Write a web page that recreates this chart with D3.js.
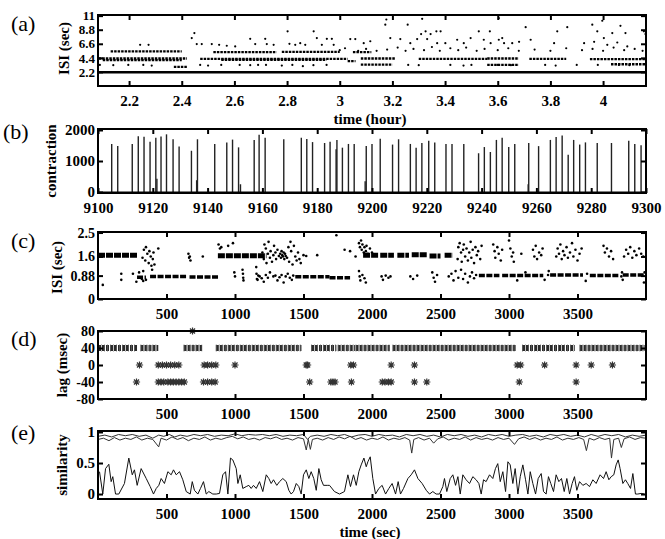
<!DOCTYPE html>
<html>
<head>
<meta charset="utf-8">
<script src="https://cdn.jsdelivr.net/npm/d3@7/dist/d3.min.js"></script>
<style>
  body { margin: 0; background: #fff; }
  svg { display: block; }
</style>
</head>
<body>
<script>
// ---- panel (a): ISI vs time (hour) ----
var aXTicks = [2.2, 2.4, 2.6, 2.8, 3, 3.2, 3.4, 3.6, 3.8, 4];
var aYTicks = [2.2, 4.4, 6.6, 8.8, 11];
// dense bands [from, to, isi]
var aSolidRuns = [[2.082, 4.163, 2.15]];
var aDotRuns = [
  [2.085, 2.42, 4.3], [2.47, 3.03, 4.25], [3.03, 3.06, 3.9], [3.08, 3.21, 4.3],
  [3.30, 3.56, 4.25], [3.56, 3.68, 4.3], [3.72, 3.86, 4.25], [3.95, 4.163, 4.2],
  [2.10, 2.40, 4.05], [2.55, 2.95, 4.1],
  [2.13, 2.40, 5.4], [2.52, 2.76, 5.3], [2.78, 3.0, 5.35], [3.05, 3.12, 5.3],
  [2.37, 2.42, 3.0], [3.08, 3.20, 3.35], [3.56, 3.68, 3.3], [4.03, 4.163, 3.4]
];
var aPoints = [
  [2.242, 6.44], [2.274, 6.44], [2.438, 7.49], [2.448, 8.28], [2.457, 6.55], [2.476, 6.55],
  [2.514, 6.55], [2.542, 6.44], [2.571, 6.29], [2.603, 6.18], [2.660, 7.38], [2.679, 6.55],
  [2.717, 7.38], [2.723, 6.55], [2.749, 6.44], [2.802, 8.54], [2.809, 6.6], [2.831, 6.44],
  [2.850, 6.7], [2.869, 6.44], [2.901, 8.54], [2.913, 7.49], [2.932, 6.44], [2.951, 7.38],
  [2.970, 7.38], [2.977, 6.44],
  [3.173, 9.58], [3.177, 10.4], [3.258, 9.58], [3.313, 10.5], [3.309, 8.12], [3.326, 8.54],
  [3.345, 8.12], [3.367, 8.54], [3.383, 8.54], [3.528, 8.54], [3.570, 8.54], [3.604, 10.6],
  [3.604, 7.23], [3.617, 7.49], [3.706, 9.2], [3.725, 7.23], [3.826, 8.54], [3.864, 9.2],
  [3.959, 9.58], [3.978, 8.54], [3.997, 10.2], [4.003, 7.49], [4.035, 8.28], [4.066, 9.4],
  [4.085, 8.28], [4.155, 8.54], [4.161, 8.12],
  [3.040, 7.33], [3.059, 7.33], [3.091, 6.7], [3.116, 7.0], [3.192, 7.49], [3.230, 7.33],
  [3.268, 6.7], [3.294, 7.33], [3.332, 7.33], [3.370, 6.7], [3.401, 6.7], [3.446, 7.23],
  [3.471, 6.7], [3.497, 7.49], [3.547, 7.23], [3.573, 6.7], [3.624, 6.7], [3.655, 6.7],
  [3.681, 6.9], [3.814, 6.7], [3.928, 6.7], [3.966, 6.9], [4.016, 6.44], [4.054, 6.8],
  [4.092, 6.18],
  [3.0, 5.6], [3.02, 5.9], [3.07, 5.5], [3.1, 5.8], [3.14, 5.5], [3.18, 5.7], [3.22, 6.0],
  [3.25, 5.5], [3.28, 5.8], [3.32, 5.6], [3.35, 6.1], [3.38, 5.5], [3.42, 5.9], [3.45, 5.6],
  [3.48, 6.0], [3.52, 5.5], [3.55, 5.8], [3.6, 5.6], [3.64, 5.9], [3.68, 5.5], [3.74, 5.7],
  [3.8, 5.5], [3.86, 5.9], [3.92, 5.6], [3.96, 5.8], [4.0, 5.5], [4.04, 6.0], [4.08, 5.6],
  [4.12, 5.8], [4.15, 5.5],
  [2.089, 3.3], [2.14, 3.25], [2.197, 3.3], [2.254, 3.3], [2.286, 3.2], [2.47, 3.3], [2.5, 3.2],
  [2.55, 3.3], [2.62, 3.3], [2.66, 3.25], [2.69, 3.3], [2.72, 3.3], [2.78, 3.2], [2.82, 3.3],
  [2.86, 3.1], [2.9, 3.25], [2.95, 3.3], [3.26, 3.3], [3.3, 3.25], [3.42, 3.3], [3.47, 3.2],
  [3.5, 3.3], [3.6, 3.3], [3.65, 3.25], [3.78, 3.3], [3.82, 3.2], [3.9, 3.3], [3.98, 3.3],
  [4.06, 3.3], [4.1, 3.25]
];

// ---- panel (b): contraction spikes ----
var bXTicks = [9100, 9120, 9140, 9160, 9180, 9200, 9220, 9240, 9260, 9280, 9300];
var bYTicks = [0, 1000, 2000];
var bSpikes = [
  [9105.0, 1550], [9107.2, 1480], [9112.5, 1550], [9114.7, 1800], [9116.8, 1780], [9119.0, 1620],
  [9121.1, 1750], [9123.0, 1790], [9125.0, 1860], [9127.4, 1700], [9129.6, 1470], [9134.1, 1330],
  [9136.3, 1700], [9142.6, 1550], [9147.0, 1600], [9149.1, 1690], [9151.3, 1440], [9157.0, 1680],
  [9158.8, 1850], [9161.0, 1750], [9167.8, 1700], [9174.2, 1750], [9176.2, 1710], [9178.3, 1610],
  [9182.7, 1580], [9184.7, 1620], [9186.9, 1380], [9187.2, 1680], [9189.2, 1430], [9191.4, 1550],
  [9193.5, 1550], [9197.9, 1480], [9200.0, 1550], [9203.0, 1720], [9207.5, 1530], [9209.7, 1700],
  [9214.0, 1550], [9216.1, 1430], [9218.2, 1580], [9220.7, 1650], [9222.9, 1600], [9227.0, 1550],
  [9229.2, 1550], [9233.5, 1550], [9238.9, 1250], [9241.0, 1450], [9243.2, 1290], [9245.4, 1680],
  [9247.5, 1750], [9249.9, 1450], [9252.1, 1550], [9257.2, 1580], [9260.8, 1480], [9265.1, 1680],
  [9267.2, 1770], [9269.4, 1820], [9271.6, 1200], [9273.6, 1680], [9275.8, 1530], [9277.9, 1600],
  [9282.2, 1580], [9287.4, 1580], [9293.7, 1650], [9295.9, 1550], [9298.2, 1510],
  [9121.5, 430], [9136.0, 380], [9197.5, 350], [9257.0, 250], [9152.0, 250]
];

// ---- panel (c): ISI (sec) vs time (sec) ----
var tXTicks = [500, 1000, 1500, 2000, 2500, 3000, 3500];
var cYTicks = [0, 0.88, 1.6, 2.5];
var cUpperRuns = [
  [0, 285, 1.65], [875, 1230, 1.63], [1935, 2050, 1.65], [2060, 2160, 1.65], [2185, 2270, 1.65],
  [2290, 2400, 1.66], [2420, 2500, 1.62], [2530, 2590, 1.65]
];
var cLowerRuns = [
  [285, 350, 0.82], [380, 645, 0.85], [668, 885, 0.83], [1440, 1690, 0.84], [1690, 1840, 0.8],
  [2780, 2930, 0.88], [2950, 3250, 0.88], [3300, 3540, 0.9], [3590, 3800, 0.88], [3830, 3990, 0.9]
];
var cPoints = [
  [35, 0.53], [170, 0.72], [170, 0.95], [255, 0.95], [280, 0.65], [300, 1.0], [320, 0.75], [330, 1.05],
  [325, 1.55], [335, 1.85], [345, 1.45], [350, 1.95], [360, 1.7], [370, 1.35], [375, 1.8], [385, 1.6],
  [390, 1.25], [400, 1.5], [405, 1.75], [412, 1.3], [440, 1.9], [395, 1.1], [330, 0.68], [350, 0.72],
  [660, 1.7], [665, 1.55], [670, 1.6], [675, 1.45], [765, 1.6],
  [880, 2.05], [890, 1.9], [900, 1.95], [950, 2.0], [985, 2.1],
  [995, 1.0], [1000, 0.85], [1055, 1.1], [1058, 0.95], [1060, 0.8], [1062, 0.7],
  [1155, 1.2], [1157, 0.95], [1160, 0.75], [1165, 0.72], [1170, 0.88],
  [1200, 1.75], [1210, 1.5], [1215, 2.05], [1225, 1.9], [1230, 1.35], [1240, 1.7], [1245, 2.15],
  [1255, 1.55], [1260, 1.8], [1270, 1.4], [1280, 1.65], [1285, 2.0], [1295, 1.75], [1300, 1.5],
  [1310, 1.85], [1320, 1.62], [1330, 1.7], [1335, 1.55], [1340, 1.8], [1345, 1.65], [1350, 1.6],
  [1355, 1.75], [1360, 1.5], [1365, 1.7], [1370, 1.62], [1380, 1.55], [1390, 1.95], [1395, 1.4],
  [1405, 2.15], [1410, 1.8], [1420, 1.3], [1430, 2.0], [1440, 1.6], [1450, 1.45], [1460, 1.75],
  [1470, 1.5], [1480, 1.35], [1500, 1.65], [1520, 1.62], [1600, 1.65],
  [1180, 0.85], [1195, 0.78], [1210, 0.65], [1225, 0.9], [1240, 0.8], [1255, 1.0], [1280, 0.85],
  [1295, 0.88], [1310, 0.7], [1325, 0.82], [1340, 0.9], [1355, 0.62], [1370, 0.85], [1385, 0.95],
  [1400, 0.8], [1415, 0.72], [1425, 0.88],
  [1740, 2.4], [1800, 1.85], [1840, 1.8], [1880, 1.6],
  [1905, 2.1], [1912, 1.95], [1920, 2.2], [1925, 1.85], [1930, 2.05], [1940, 1.75], [1945, 1.95],
  [1955, 1.8], [1960, 2.0], [1970, 1.7], [1985, 1.9], [2000, 1.75],
  [1905, 1.05], [1910, 0.85], [1915, 0.7], [1930, 0.9], [1945, 0.78], [1955, 0.62],
  [2070, 0.85], [2080, 0.72], [2100, 0.88], [2120, 0.8], [2135, 0.85], [2280, 0.85], [2300, 0.75],
  [2330, 0.88], [2440, 1.0], [2450, 0.8], [2460, 0.65], [2475, 0.9],
  [2625, 1.5], [2630, 1.95], [2640, 2.1], [2650, 1.75], [2655, 1.4], [2665, 1.85], [2670, 2.05],
  [2680, 1.6], [2690, 1.9], [2700, 1.45], [2710, 1.75], [2720, 2.15], [2725, 1.55], [2735, 1.85],
  [2745, 1.35], [2755, 1.95], [2765, 1.65], [2775, 1.8], [2790, 1.5], [2800, 2.0],
  [2560, 0.85], [2580, 0.95], [2595, 0.7], [2610, 1.05], [2630, 0.8], [2650, 1.1], [2665, 0.75],
  [2680, 0.95], [2700, 0.62], [2715, 0.85], [2730, 1.0], [2745, 0.78], [2760, 0.9],
  [2885, 2.05], [2895, 1.8], [2900, 1.55], [2915, 1.95], [2925, 1.7], [2940, 1.45], [2950, 1.85],
  [3000, 2.2], [3010, 1.9], [3020, 1.6], [3030, 1.75], [3035, 1.4], [3090, 1.7],
  [3175, 1.85], [3185, 1.6], [3195, 2.0], [3205, 1.5], [3220, 1.75], [3235, 1.65], [3245, 1.9],
  [3345, 1.6], [3355, 1.9], [3365, 1.7], [3375, 2.05], [3385, 1.5], [3395, 1.8], [3405, 1.65],
  [3420, 1.95], [3430, 1.55], [3445, 1.75], [3460, 2.1], [3470, 1.6], [3485, 1.85], [3500, 1.45],
  [3515, 1.7], [3530, 1.9],
  [3690, 2.0], [3700, 1.75], [3715, 1.9], [3730, 1.6], [3745, 1.8], [3760, 1.5],
  [3840, 1.6], [3855, 1.85], [3870, 1.7], [3885, 1.95], [3900, 1.55], [3915, 1.8], [3930, 1.65],
  [3950, 1.9], [3965, 1.7], [3980, 1.6],
  [3060, 0.7], [3120, 1.0], [3260, 0.72], [3285, 0.9], [3290, 1.05], [3560, 0.68], [3570, 0.95],
  [3820, 0.85], [3825, 1.0], [3830, 0.72], [3985, 0.62], [3990, 1.0]
];

// ---- panel (d): lag (msec) ----
var dYTicks = [-80, -40, 0, 40, 80];
var dRuns40 = [
  [0, 285], [310, 440], [625, 760], [860, 1485], [1555, 1740], [1750, 1875], [1880, 2130],
  [2150, 2350], [2355, 3055], [3095, 3480], [3515, 3990]
];
var dLag80 = [690];
var dLag0 = [303, 440, 470, 500, 530, 560, 590, 775, 800, 830, 860, 1000, 1520, 1530, 1845, 1865,
  2140, 2310, 3060, 3085, 3260, 3490, 3600, 3755];
var dLagM40 = [281, 440, 460, 480, 510, 530, 550, 570, 590, 610, 630, 770, 800, 830, 855, 1545,
  1700, 1715, 1730, 1850, 2075, 2095, 2120, 2140, 2310, 2400, 3075, 3490];

// ---- panel (e): similarity ----
var eYTicks = [0, 0.5, 1];
var eUpperA = [
  [0, 0.93], [50, 0.95], [100, 0.92], [150, 0.96], [200, 0.94], [250, 0.96], [300, 0.93], [350, 0.95],
  [400, 0.9], [443, 0.95], [480, 0.93], [520, 0.96], [560, 0.92], [600, 0.95], [650, 0.93], [700, 0.96],
  [750, 0.94], [800, 0.96], [850, 0.93], [900, 0.95], [950, 0.94], [1000, 0.97], [1050, 0.94],
  [1100, 0.96], [1150, 0.95], [1200, 0.96], [1250, 0.94], [1300, 0.96], [1350, 0.93], [1400, 0.95],
  [1450, 0.94], [1500, 0.96], [1530, 0.88], [1550, 0.93], [1600, 0.95], [1650, 0.93], [1700, 0.96],
  [1750, 0.94], [1800, 0.96], [1850, 0.92], [1900, 0.95], [1950, 0.96], [2000, 0.93], [2050, 0.96],
  [2100, 0.94], [2150, 0.95], [2200, 0.92], [2250, 0.96], [2300, 0.94], [2350, 0.96], [2400, 0.93],
  [2450, 0.95], [2500, 0.92], [2550, 0.96], [2600, 0.94], [2650, 0.96], [2700, 0.93], [2750, 0.95],
  [2800, 0.92], [2850, 0.96], [2900, 0.94], [2950, 0.96], [3000, 0.93], [3050, 0.95], [3100, 0.96],
  [3150, 0.93], [3200, 0.95], [3250, 0.92], [3300, 0.96], [3350, 0.94], [3400, 0.96], [3450, 0.93],
  [3500, 0.95], [3550, 0.92], [3600, 0.96], [3650, 0.93], [3700, 0.96], [3750, 0.94], [3800, 0.96],
  [3850, 0.92], [3900, 0.95], [3950, 0.93], [4000, 0.95]
];
var eUpperB = [
  [0, 0.88], [40, 0.9], [80, 0.86], [120, 0.91], [160, 0.87], [200, 0.9], [240, 0.88], [280, 0.92],
  [320, 0.87], [360, 0.9], [400, 0.88], [443, 0.76], [460, 0.9], [500, 0.87], [540, 0.92], [580, 0.88],
  [620, 0.91], [660, 0.86], [700, 0.9], [740, 0.88], [780, 0.92], [820, 0.87], [860, 0.9], [900, 0.88],
  [940, 0.91], [980, 0.93], [1020, 0.89], [1060, 0.92], [1100, 0.88], [1140, 0.9], [1180, 0.87],
  [1220, 0.91], [1260, 0.89], [1300, 0.92], [1340, 0.88], [1380, 0.9], [1420, 0.87], [1460, 0.91],
  [1500, 0.89], [1520, 0.71], [1535, 0.88], [1550, 0.72], [1565, 0.88], [1600, 0.9], [1640, 0.87],
  [1680, 0.91], [1720, 0.88], [1760, 0.92], [1800, 0.89], [1840, 0.93], [1880, 0.88], [1920, 0.91],
  [1960, 0.87], [2000, 0.9], [2040, 0.88], [2080, 0.92], [2120, 0.87], [2160, 0.9], [2200, 0.88],
  [2240, 0.91], [2275, 0.87], [2290, 0.66], [2305, 0.88], [2340, 0.91], [2380, 0.87], [2420, 0.9],
  [2450, 0.82], [2480, 0.89], [2520, 0.92], [2560, 0.87], [2600, 0.9], [2640, 0.88], [2680, 0.92],
  [2720, 0.87], [2760, 0.91], [2800, 0.88], [2840, 0.9], [2880, 0.87], [2920, 0.91], [2960, 0.88],
  [3000, 0.9], [3040, 0.8], [3070, 0.89], [3110, 0.92], [3150, 0.88], [3190, 0.91], [3230, 0.87],
  [3270, 0.9], [3310, 0.88], [3350, 0.92], [3390, 0.87], [3430, 0.9], [3470, 0.88], [3510, 0.91],
  [3545, 0.88], [3565, 0.7], [3585, 0.9], [3620, 0.87], [3660, 0.91], [3700, 0.88], [3735, 0.9],
  [3748, 0.58], [3765, 0.88], [3800, 0.9], [3820, 0.75], [3840, 0.89], [3880, 0.92], [3920, 0.88],
  [3960, 0.91], [4000, 0.9]
];
var eLower = [
  [11, 0.36], [35, 0], [55, 0.41], [79, 0.48], [96, 0.2], [108, 0.28], [128, 0], [152, 0], [193, 0.17],
  [225, 0.58], [250, 0.31], [266, 0.39], [286, 0.14], [315, 0.41], [352, 0.25], [381, 0.12], [405, 0],
  [425, 0.09], [444, 0.14], [461, 0.25], [485, 0.17], [510, 0.36], [534, 0.31], [551, 0.39], [571, 0.31],
  [595, 0.36], [619, 0.23], [644, 0.04], [673, 0], [688, 0.2], [704, 0.06], [729, 0], [748, 0.09],
  [770, 0.2], [790, 0], [809, 0.04], [838, 0], [863, 0], [887, 0.01], [911, 0.31], [931, 0.36], [948, 0],
  [967, 0.58], [984, 0.55], [1009, 0.41], [1021, 0.17], [1038, 0.31], [1057, 0.09], [1082, 0.12],
  [1101, 0.14], [1118, 0.09], [1135, 0.14], [1155, 0.09], [1179, 0.2], [1203, 0.04], [1228, 0.31],
  [1247, 0.25], [1264, 0.17], [1281, 0.23], [1305, 0.14], [1325, 0.2], [1349, 0.25], [1374, 0.2],
  [1393, 0.06], [1410, 0], [1427, 0.04], [1447, 0.17], [1466, 0.12], [1483, 0], [1500, 0.31],
  [1520, 0.39], [1539, 0.25], [1556, 0.36], [1575, 0.25], [1593, 0.06], [1612, 0.41], [1629, 0.23],
  [1646, 0.14], [1677, 0.14], [1690, 0.14], [1726, 0.04], [1763, 0], [1799, 0.04], [1824, 0.31],
  [1843, 0.12], [1865, 0.31], [1885, 0.14], [1904, 0.36], [1921, 0.47], [1941, 0.58], [1958, 0.44],
  [1970, 0.52], [1987, 0.6], [2006, 0.25], [2026, 0], [2050, 0.09], [2074, 0.14], [2099, 0],
  [2123, 0.09], [2147, 0.17], [2172, 0], [2191, 0.2], [2208, 0], [2230, 0.09], [2262, 0.25],
  [2286, 0.31], [2310, 0.39], [2335, 0.25], [2366, 0.17], [2396, 0.06], [2420, 0], [2444, 0.04],
  [2468, 0], [2493, 0], [2517, 0.12], [2529, 0.25], [2546, 0.04], [2571, 0.25], [2590, 0.31],
  [2610, 0.14], [2627, 0.28], [2644, 0], [2663, 0.31], [2687, 0.23], [2712, 0.17], [2736, 0.28],
  [2760, 0.23], [2780, 0.17], [2797, 0], [2814, 0.23], [2833, 0.2], [2858, 0.31], [2882, 0.25],
  [2901, 0.41], [2918, 0.49], [2936, 0.2], [2955, 0.36], [2975, 0.04], [2992, 0.52], [3009, 0.47],
  [3028, 0.17], [3045, 0.41], [3065, 0], [3082, 0.28], [3101, 0.47], [3121, 0.23], [3138, 0],
  [3155, 0.36], [3174, 0.17], [3194, 0], [3213, 0.25], [3235, 0.33], [3252, 0.04], [3271, 0],
  [3288, 0.28], [3305, 0.17], [3325, 0.04], [3344, 0.31], [3364, 0.2], [3383, 0.25], [3403, 0.04],
  [3422, 0.25], [3442, 0], [3461, 0.17], [3478, 0.28], [3495, 0.06], [3515, 0.2], [3539, 0.14],
  [3563, 0.17], [3588, 0.12], [3612, 0.23], [3636, 0.17], [3665, 0.31], [3690, 0.25], [3709, 0.36],
  [3729, 0.23], [3746, 0.28], [3765, 0.31], [3782, 0.47], [3797, 0.55], [3811, 0.41], [3831, 0.17],
  [3850, 0.23], [3867, 0.17], [3887, 0.09], [3904, 0.33], [3923, 0], [3940, 0], [3965, 0.01], [3989, 0]
];

var W = 665, H = 539;
var L = 98, R = 646;
var FONT = "Liberation Serif, Times New Roman, serif";

var svg = d3.select("body").append("svg").attr("width", W).attr("height", H)
  .attr("font-family", FONT);
svg.append("rect").attr("width", W).attr("height", H).attr("fill", "#fff");

function makePanel(cfg) {
  var g = svg.append("g");
  var x = d3.scaleLinear().domain(cfg.xDomain).range([L, R]);
  var y = d3.scaleLinear().domain(cfg.yDomain).range([cfg.bottom, cfg.top]);
  var marks = g.append("g");
  return { g: g, x: x, y: y, marks: marks, cfg: cfg };
}

function styleAxis(sel, size) {
  sel.select(".domain").remove();
  sel.attr("font-family", FONT).attr("font-size", size || 15).attr("font-weight", "bold");
  sel.selectAll(".tick line").attr("stroke", "#000").attr("stroke-width", 2);
  sel.selectAll(".tick text").attr("fill", "#000");
}

function finishPanel(p) {
  var c = p.cfg, g = p.g;
  var fmt = function (d) { return String(d); };
  g.append("g").attr("transform", "translate(0," + c.bottom + ")")
    .call(d3.axisBottom(p.x).tickValues(c.xTicks).tickFormat(fmt).tickSizeInner(-5).tickSizeOuter(0).tickPadding(9))
    .call(styleAxis);
  g.append("g").attr("transform", "translate(0," + c.top + ")")
    .call(d3.axisTop(p.x).tickValues(c.xTicks).tickFormat("").tickSizeInner(-5).tickSizeOuter(0))
    .call(styleAxis);
  g.append("g").attr("transform", "translate(" + L + ",0)")
    .call(d3.axisLeft(p.y).tickValues(c.yTicks).tickFormat(fmt).tickSizeInner(-5).tickSizeOuter(0).tickPadding(3))
    .call(styleAxis, c.yTickSize);
  g.append("g").attr("transform", "translate(" + R + ",0)")
    .call(d3.axisRight(p.y).tickValues(c.yTicks).tickFormat("").tickSizeInner(-5).tickSizeOuter(0))
    .call(styleAxis);
  g.append("rect").attr("x", L).attr("y", c.top).attr("width", R - L).attr("height", c.bottom - c.top)
    .attr("fill", "none").attr("stroke", "#000").attr("stroke-width", 2);

  // y label
  g.append("text")
    .attr("transform", "translate(" + c.yLabelX + "," + ((c.top + c.bottom) / 2 + (c.yLabelShift || 0)) + ") rotate(-90)")
    .attr("text-anchor", "middle").attr("dy", "0.35em")
    .attr("font-size", 15).attr("font-weight", "bold").text(c.yLabel);
  // panel letter
  g.append("text").attr("x", c.letterX).attr("y", c.letterY)
    .attr("font-size", 22).text(c.letter);
  if (c.xLabel) {
    g.append("text").attr("x", 370).attr("y", c.xLabelY).attr("text-anchor", "middle")
      .attr("dy", "0.35em").attr("font-size", 15).attr("font-weight", "bold").text(c.xLabel);
  }
}

function drawRuns(p, runs, width, dash, color) {
  p.marks.selectAll(null).data(runs).enter().append("line")
    .attr("x1", function (d) { return p.x(d[0]); })
    .attr("x2", function (d) { return p.x(d[1]); })
    .attr("y1", function (d) { return p.y(d[2]); })
    .attr("y2", function (d) { return p.y(d[2]); })
    .attr("stroke", color || "#000").attr("stroke-width", width)
    .attr("stroke-dasharray", dash);
}

function drawDots(p, pts, r) {
  p.marks.selectAll(null).data(pts).enter().append("circle")
    .attr("cx", function (d) { return p.x(d[0]); })
    .attr("cy", function (d) { return p.y(d[1]); })
    .attr("r", r).attr("fill", "#000");
}

// (a)
var pa = makePanel({ xDomain: [2.082, 4.163], yDomain: [0, 11.1], top: 15, bottom: 86,
  xTicks: aXTicks, yTicks: aYTicks, yTickSize: 13, yLabel: "ISI (sec)", yLabelX: 64, yLabelShift: -2,
  letter: "(a)", letterX: 11, letterY: 31, xLabel: "time (hour)", xLabelY: 119 });
drawRuns(pa, aSolidRuns, 2.5, null);
drawRuns(pa, aDotRuns, 2.3, "2.5,1", "#000");
drawDots(pa, aPoints, 1.1);
finishPanel(pa);

// (b)
var pb = makePanel({ xDomain: [9100, 9300], yDomain: [-32, 2032], top: 129, bottom: 193,
  xTicks: bXTicks, yTicks: bYTicks, yLabel: "contraction", yLabelX: 51, yLabelShift: 0,
  letter: "(b)", letterX: 3, letterY: 139 });
pb.marks.selectAll(null).data(bSpikes).enter().append("line")
  .attr("x1", function (d) { return pb.x(d[0]); })
  .attr("x2", function (d) { return pb.x(d[0]); })
  .attr("y1", pb.y(0))
  .attr("y2", function (d) { return pb.y(d[1]); })
  .attr("stroke", "#222").attr("stroke-width", 1.4);
pb.marks.append("line").attr("x1", L).attr("x2", R).attr("y1", pb.y(0)).attr("y2", pb.y(0))
  .attr("stroke", "#000").attr("stroke-width", 1);
finishPanel(pb);

// (c)
var pc = makePanel({ xDomain: [0, 4000], yDomain: [0, 2.52], top: 232, bottom: 299,
  xTicks: tXTicks, yTicks: cYTicks, yTickSize: 14, yLabel: "ISI (sec)", yLabelX: 57, yLabelShift: 2,
  letter: "(c)", letterX: 11, letterY: 248 });
drawRuns(pc, cUpperRuns, 5, "7,1");
drawRuns(pc, cLowerRuns, 3.5, "6,1.5");
drawDots(pc, cPoints, 1.3);
finishPanel(pc);

// (d)
var pd = makePanel({ xDomain: [0, 4000], yDomain: [-80, 80], top: 331, bottom: 399,
  xTicks: tXTicks, yTicks: dYTicks, yTickSize: 14, yLabel: "lag (msec)", yLabelX: 62, yLabelShift: 0,
  letter: "(d)", letterX: 11, letterY: 346 });
function asterisk(r) {
  var q = r * Math.SQRT1_2;
  return "M" + (-r) + ",0L" + r + ",0M0," + (-r) + "L0," + r +
    "M" + (-q) + "," + (-q) + "L" + q + "," + q + "M" + (-q) + "," + q + "L" + q + "," + (-q);
}
pd.marks.selectAll(null).data(dRuns40).enter().append("line")
  .attr("x1", function (d) { return pd.x(d[0]); })
  .attr("x2", function (d) { return pd.x(d[1]); })
  .attr("y1", pd.y(40)).attr("y2", pd.y(40))
  .attr("stroke", "#2a2a2a").attr("stroke-width", 6).attr("stroke-dasharray", "3,1");
pd.marks.selectAll(null).data(dRuns40).enter().append("line")
  .attr("x1", function (d) { return pd.x(d[0]); })
  .attr("x2", function (d) { return pd.x(d[1]); })
  .attr("y1", pd.y(40)).attr("y2", pd.y(40))
  .attr("stroke", "#888").attr("stroke-width", 8).attr("stroke-dasharray", "0.8,2.2")
  .attr("opacity", 0.6);
var dStars = dLag80.map(function (t) { return [t, 80]; })
  .concat(dLag0.map(function (t) { return [t, 0]; }))
  .concat(dLagM40.map(function (t) { return [t, -40]; }));
pd.marks.selectAll(null).data(dStars).enter().append("path")
  .attr("transform", function (d) { return "translate(" + pd.x(d[0]) + "," + pd.y(d[1]) + ")"; })
  .attr("d", asterisk(3.6)).attr("stroke", "#333").attr("stroke-width", 1.2).attr("fill", "none");
finishPanel(pd);

// (e)
var pe = makePanel({ xDomain: [0, 4000], yDomain: [-0.08, 1.016], top: 431, bottom: 499,
  xTicks: tXTicks, yTicks: eYTicks, yLabel: "similarity", yLabelX: 62, yLabelShift: 0,
  letter: "(e)", letterX: 11, letterY: 440, xLabel: "time (sec)", xLabelY: 532 });
var eLine = d3.line().x(function (d) { return pe.x(d[0]); }).y(function (d) { return pe.y(d[1]); });
[eUpperA, eUpperB].forEach(function (s) {
  pe.marks.append("path").attr("d", eLine(s)).attr("fill", "none")
    .attr("stroke", "#333").attr("stroke-width", 1);
});
pe.marks.append("path").attr("d", eLine(eLower)).attr("fill", "none")
  .attr("stroke", "#111").attr("stroke-width", 1);
finishPanel(pe);
</script>
</body>
</html>
